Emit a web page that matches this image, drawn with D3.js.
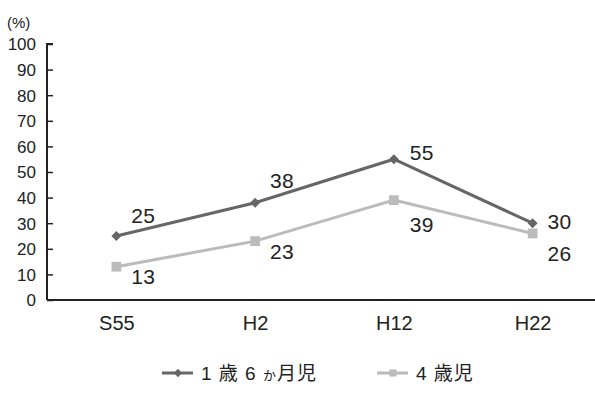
<!DOCTYPE html>
<html>
<head>
<meta charset="utf-8">
<script src="https://cdn.jsdelivr.net/npm/d3@7"></script>
<style>
  body { margin: 0; background: #fff; }
  svg { display: block; font-family: "Liberation Sans", Arial, "Noto Sans CJK JP", sans-serif; }
</style>
</head>
<body>
<svg width="595" height="394"></svg>
<script>
const categories = ['S55', 'H2', 'H12', 'H22']
const toddlers = [25, 38, 55, 30]   // 1歳6か月児
const fourYears = [13, 23, 39, 26]  // 4歳児
const yTicks = [0, 10, 20, 30, 40, 50, 60, 70, 80, 90, 100]
const seriesNames = [['1 歳 6 ', 'か', '月児'], ['4 歳児']]

// where each value label sits relative to its point
const darkOffsets = [[27, -13], [27, -15], [28, 1], [27, 6]]
const lightOffsets = [[27, 17], [27, 18], [28, 32], [27, 28]]

const dark = '#666'
const light = '#bbb'

const svg = d3.select('svg')

const x = d3.scalePoint().domain(categories).range([47, 602]).padding(0.5)
const y = d3.scaleLinear().domain([0, 100]).range([300, 44])

// y axis, ticks pointing inward
const yAxis = svg.append('g')
    .attr('transform', 'translate(47,0)')
    .call(d3.axisRight(y).tickValues(yTicks).tickSize(6).tickFormat(d3.format('d')))
yAxis.select('.domain').attr('d', 'M6,44H0V300').attr('stroke', '#222').attr('stroke-width', 2)
yAxis.selectAll('.tick line').attr('stroke', '#222').attr('stroke-width', 1.5)
yAxis.selectAll('.tick text')
    .attr('x', -11).attr('text-anchor', 'end').attr('dy', '0.35em')
    .attr('font-size', 17).attr('fill', '#222')
    .attr('font-family', '"Liberation Sans", Arial, sans-serif')

svg.append('text').attr('x', 7).attr('y', 28).attr('font-size', 15).attr('fill', '#222').text('(%)')

// x axis: plain line and labels, no ticks
const xAxis = svg.append('g')
    .attr('transform', 'translate(0,300)')
    .call(d3.axisBottom(x).tickSize(0).tickPadding(16))
xAxis.select('.domain').attr('d', 'M47,0H595').attr('stroke', '#222').attr('stroke-width', 2)
xAxis.selectAll('.tick text')
    .attr('font-size', 20).attr('fill', '#222')
    .attr('font-family', '"Liberation Sans", Arial, sans-serif')

const line = d3.line().x((d, i) => x(categories[i])).y(d => y(d))

function series(values, color, marker, offsets) {
    svg.append('path').datum(values)
        .attr('d', line).attr('fill', 'none')
        .attr('stroke', color).attr('stroke-width', 3)
    svg.append('g').selectAll('path').data(values).join('path')
        .attr('transform', (d, i) => `translate(${x(categories[i])},${y(d)})`)
        .attr('d', marker).attr('fill', color)
    svg.append('g').selectAll('text').data(values).join('text')
        .attr('x', (d, i) => x(categories[i]) + offsets[i][0])
        .attr('y', (d, i) => y(d) + offsets[i][1])
        .attr('text-anchor', 'middle').attr('font-size', 21).attr('fill', '#222')
        .attr('letter-spacing', 0.5)
        .text(d => d)
}

const diamond = d3.symbol().type(d3.symbolDiamond2).size(64)
const square = d3.symbol().type(d3.symbolSquare2).size(121)

series(toddlers, dark, diamond, darkOffsets)
series(fourYears, light, square, lightOffsets)

// legend
const legend = svg.append('g').attr('transform', 'translate(0,373)')
const legendItems = [
    { parts: seriesNames[0], color: dark, marker: d3.symbol().type(d3.symbolDiamond2).size(44), x: 162 },
    { parts: seriesNames[1], color: light, marker: d3.symbol().type(d3.symbolSquare2).size(64), x: 377 }
]
legendItems.forEach(item => {
    legend.append('line').attr('x1', item.x).attr('x2', item.x + 31)
        .attr('stroke', item.color).attr('stroke-width', 3)
    legend.append('path').attr('transform', `translate(${item.x + 16},0)`)
        .attr('d', item.marker).attr('fill', item.color)
    const label = legend.append('text').attr('x', item.x + 39).attr('dy', '0.38em')
        .attr('font-size', 19).attr('fill', '#222').attr('letter-spacing', 1)
        .style('white-space', 'pre')
    item.parts.forEach(p => {
        label.append('tspan').attr('font-size', p === 'か' ? 13 : 19).text(p)
    })
})
</script>
</body>
</html>
